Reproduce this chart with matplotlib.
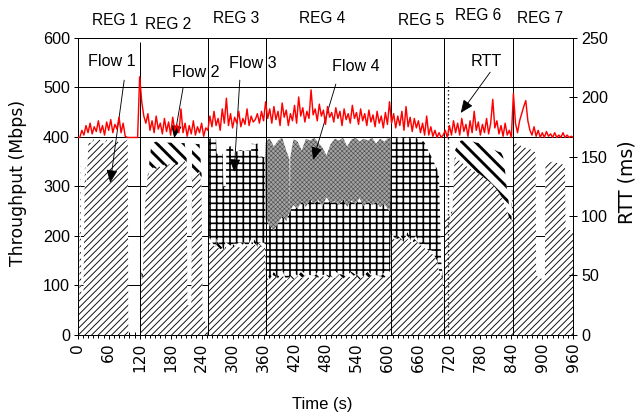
import numpy as np
import matplotlib
matplotlib.use('Agg')
import matplotlib.pyplot as plt
from matplotlib.ticker import MultipleLocator

# throughput of each flow (Mbps), stacked
t_flow = [0, 3, 5, 7, 11, 14, 17, 21, 26, 31, 36, 41, 46, 51, 56, 61, 66, 71, 76, 81, 86, 91, 96, 97, 98, 120,
          121, 122, 124, 126, 128, 131, 134, 138, 142, 147, 152, 157, 162, 167, 172, 177, 182, 187, 192, 197,
          202, 207, 211, 212.5, 220, 221.5, 226, 231, 236, 240, 242, 250, 251,
          252, 252.5, 258, 264, 268, 269, 275, 281, 282, 287, 288, 294, 300, 301, 308, 315, 322, 329, 336, 337,
          343, 349, 350, 356, 363,
          364, 365, 372, 380, 388, 396, 404, 410, 411, 412, 418, 426, 434, 442, 450, 458, 466, 474, 482, 490,
          498, 506, 514, 522, 530, 538, 546, 554, 562, 570, 578, 586, 594, 600, 605,
          606, 607, 615, 623, 631, 639, 647, 655, 663, 671, 679, 685, 691, 696, 700, 704, 707, 709,
          710, 711, 716, 722, 726, 730, 736, 742, 748, 754, 760, 766, 772, 778, 784, 790, 796, 802, 808, 814,
          820, 824, 828, 832, 836, 840, 842,
          843, 844, 850, 858, 866, 874, 882, 887, 888, 896, 905, 906, 914, 922, 930, 938, 944, 945, 952, 960]

flow1 = [70, 75, 355, 80, 85, 350, 300, 392, 386, 395, 388, 396, 390, 385, 394, 389, 397, 387, 393, 386, 395, 390, 394, 392, 0, 0,
         0, 95, 125, 110, 200, 270, 310, 330, 332, 338, 335, 342, 336, 344, 338, 346, 340, 348, 342, 350,
         345, 352, 340, 60, 60, 320, 318, 325, 330, 300, 30, 25, 0,
         0, 190, 184, 180, 178, 182, 172, 176, 170, 180, 174, 182, 178, 176, 184, 175, 186, 178, 184, 178,
         182, 176, 184, 178, 184,
         118, 116, 112, 120, 114, 122, 110, 118, 116, 118, 112, 120, 115, 122, 113, 119, 116, 121, 112, 118,
         115, 123, 114, 120, 116, 122, 112, 119, 115, 121, 113, 118, 116, 120, 118,
         200, 198, 192, 196, 188, 194, 186, 190, 182, 176, 170, 165, 160, 150, 130, 120, 110, 20,
         20, 240, 245, 238, 250, 360, 355, 350, 345, 340, 335, 332, 328, 325, 320, 315, 310, 305, 298, 290,
         280, 270, 260, 250, 235, 225, 290,
         290, 390, 386, 382, 378, 376, 372, 368, 120, 115, 110, 340, 348, 350, 346, 345, 340, 215, 212, 210]

flow2 = [0] * 26 + \
        [0, 10, 15, 10, 5, 0, 0, 10, 48, 50, 55, 45, 52, 44, 50, 42, 48, 40, 46, 38,
         42, 35, 20, 0, 0, 60, 68, 60, 55, 25, 0, 0, 0] + \
        [0, 14, 8, 0, 0, 12, 10, 0, 0, 10, 12, 0, 0, 8, 0, 12, 0, 0, 10, 0, 12, 0, 0, 10, 0] + \
        [10, 12, 0, 8, 0, 10, 0, 0, 0, 0, 12, 0, 14, 0, 8, 0, 12, 0, 10, 0,
         14, 0, 8, 0, 12, 0, 10, 0, 14, 0, 8, 0, 10, 0, 12] + \
        [0, 12, 0, 10, 0, 14, 0, 10, 0, 8, 0, 6, 0, 0, 0, 0, 0, 0] + \
        [0, 10, 0, 8, 0, 10, 30, 42, 48, 52, 55, 58, 60, 62, 64, 65, 68, 70, 75, 80,
         88, 90, 70, 40, 25, 20, 10] + \
        [0] * 20

flow3 = [0] * 26 + [0] * 33 + \
        [0, 191, 205, 214, 217, 172, 182, 190, 128, 110, 196, 198, 204, 188, 186, 186, 185, 194, 178, 208,
         191, 210, 175, 172, 174] + \
        [102, 107, 108, 84, 111, 108, 120, 132, 129, 134, 138, 135, 141, 136, 154, 146, 144, 139, 156, 148,
         141, 139, 153, 138, 144, 142, 154, 141, 141, 141, 147, 140, 139, 135, 120] + \
        [198, 188, 204, 193, 209, 190, 210, 198, 210, 206, 202, 189, 186, 185, 190, 30, 10, 0] + \
        [0] * 27 + [0] * 20

flow4 = [0] * 26 + [0] * 33 + [0] * 25 + \
        [155, 157, 176, 168, 167, 158, 142, 105, 5, 108, 133, 135, 102, 138, 117, 133, 116, 118, 84, 119,
         126, 130, 123, 122, 122, 134, 114, 136, 122, 136, 118, 138, 125, 141, 148] + \
        [0] * 18 + [0] * 27 + [0] * 20

# RTT (ms), one reading every 4 s from 0 to 960 s
rtt = [166, 166, 172, 168, 176, 170, 178, 169, 175, 171,
       180, 170, 176, 168, 179, 172, 181, 170, 177, 173,
       183, 170, 178, 167, 166, 166, 166, 166, 166, 166,
       217, 196, 184, 178, 186, 172, 180, 170, 184, 173,
       178, 169, 182, 171, 179, 168, 183, 172, 177, 170,
       190, 170, 178, 167, 176, 169, 180, 168, 175, 170,
       178, 167, 174, 172, 184, 175, 188, 176, 182, 172,
       190, 178, 199, 176, 186, 174, 183, 178, 188, 175,
       182, 177, 190, 176, 184, 179, 181, 186, 178, 188,
       180, 196, 182, 190, 178, 192, 181, 188, 176, 195,
       183, 189, 176, 186, 180, 193, 178, 200, 184, 191,
       179, 188, 182, 206, 185, 190, 180, 194, 184, 189,
       177, 192, 183, 187, 179, 191, 182, 188, 176, 190,
       181, 186, 178, 193, 182, 187, 177, 190, 180, 186,
       176, 189, 179, 185, 175, 188, 178, 184, 174, 187,
       177, 196, 178, 186, 174, 184, 176, 188, 172, 192,
       175, 183, 171, 182, 174, 180, 170, 178, 168, 184,
       168, 175, 167, 172, 166, 170, 166, 168, 172, 166,
       176, 168, 180, 170, 178, 168, 182, 171, 177, 167,
       180, 170, 188, 172, 179, 168, 177, 170, 182, 169,
       178, 198, 174, 180, 169, 176, 167, 178, 168, 172,
       166, 203, 178, 170, 180, 186, 192, 197, 180, 172,
       168, 175, 167, 172, 166, 170, 166, 171, 167, 169,
       166, 170, 166, 168, 166, 170, 166, 168, 166, 167,
       166]
t_rtt = np.arange(0, 961, 4)

reg_lines = [120, 252, 364, 606, 709, 843]
reg_tops = [590, 600, 600, 600, 600, 600]
reg_names = ['REG 1', 'REG 2', 'REG 3', 'REG 4', 'REG 5', 'REG 6', 'REG 7']
reg_x = [72, 175, 307, 473, 665, 776, 895]
reg_y = [635, 627, 639, 639, 635, 645, 639]

sans = ['Liberation Sans', 'DejaVu Sans']

t = np.array(t_flow, dtype=float)
c1 = np.array(flow1, dtype=float)
c2 = c1 + np.array(flow2)
c3 = c2 + np.array(flow3)
c4 = c3 + np.array(flow4)

fig = plt.figure(figsize=(7.95, 5.25), dpi=80)
ax = fig.add_axes([0.1222, 0.2024, 0.7792, 0.7083])

def hatched(lower, upper, hatch, hlw, fc='white', ec='black'):
    with plt.rc_context({'hatch.linewidth': hlw}):
        p = ax.fill_between(t, lower, upper, facecolor=fc, edgecolor=ec,
                            hatch=hatch, linewidth=0, zorder=2)
    if hasattr(p, 'set_hatch_linewidth'):
        p.set_hatch_linewidth(hlw)
    return p

hatched(0, c1, '////', 0.8)
hatched(c1, c2, '\\\\', 2.6)
hatched(c2, c3, '++', 1.5)
hatched(c3, c4, 'xxxxxx', 0.5, fc='#a4a4a4', ec='#4a4a4a')

ax.vlines(reg_lines, 0, reg_tops, color='black', lw=0.9, zorder=3)
ax.vlines([718], 0, 510, color='black', lw=1.2, linestyles=(0, (1, 2)), zorder=3)

ax.set_xlim(0, 960)
ax.set_ylim(0, 600)
ax.set_xticks(range(0, 961, 60))
ax.xaxis.set_minor_locator(MultipleLocator(10))
ax.set_yticks(range(0, 601, 100))
ax.grid(axis='y', color='black', lw=0.9, zorder=0.5)
ax.set_axisbelow(True)
for lab in ax.get_xticklabels():
    lab.set_rotation(90)
    lab.set_fontfamily('DejaVu Sans')
    lab.set_fontsize(14)
for lab in ax.get_yticklabels():
    lab.set_fontfamily('Liberation Sans')
    lab.set_fontsize(14.5)
ax.tick_params(axis='both', which='major', direction='inout', length=8, width=0.9, pad=3)
ax.tick_params(axis='x', which='minor', direction='inout', length=6, width=0.9)
for s in ax.spines.values():
    s.set_linewidth(0.9)

ax2 = ax.twinx()
ax2.plot(t_rtt, rtt, color='#ff0000', lw=1.3, zorder=5)
ax2.set_ylim(0, 250)
ax2.set_yticks(range(0, 251, 50))
ax2.tick_params(direction='inout', length=8, width=0.9, pad=3)
for lab in ax2.get_yticklabels():
    lab.set_fontfamily('Liberation Sans')
    lab.set_fontsize(14.5)

for name, x, y in zip(reg_names, reg_x, reg_y):
    ax.text(x, y, name, ha='center', va='center', fontsize=14, family=sans, clip_on=False)

arrow = dict(arrowstyle='-|>,head_length=0.7,head_width=0.3', color='black', lw=0.8,
             shrinkA=0, shrinkB=0, mutation_scale=14)
notes = [('Flow 1', (66, 551), (90, 514), (63, 307)),
         ('Flow 2', (228, 530), (204, 498), (187, 397)),
         ('Flow 3', (339, 547), (314, 514), (303, 329)),
         ('Flow 4', (539, 541), (500, 506), (456, 353)),
         ('RTT', (791, 551), (799, 530), (742, 448))]
for label, pos, start, end in notes:
    ax.text(pos[0], pos[1], label, ha='center', va='center', fontsize=14.5, family=sans, zorder=6)
    ax.annotate('', xy=end, xytext=start, arrowprops=arrow, zorder=6)

fig.text(18 / 636, 1 - 183 / 420, 'Throughput (Mbps)', rotation=90, ha='center', va='center',
         fontsize=15.5, family='DejaVu Sans')
fig.text(322 / 636, 1 - 405 / 420, 'Time (s)', ha='center', va='center', fontsize=15, family=sans)
fig.text(627 / 636, 1 - 182 / 420, 'RTT (ms)', rotation=90, ha='center', va='center',
         fontsize=17, family='DejaVu Sans')

fig.savefig('out.png', dpi=80)
